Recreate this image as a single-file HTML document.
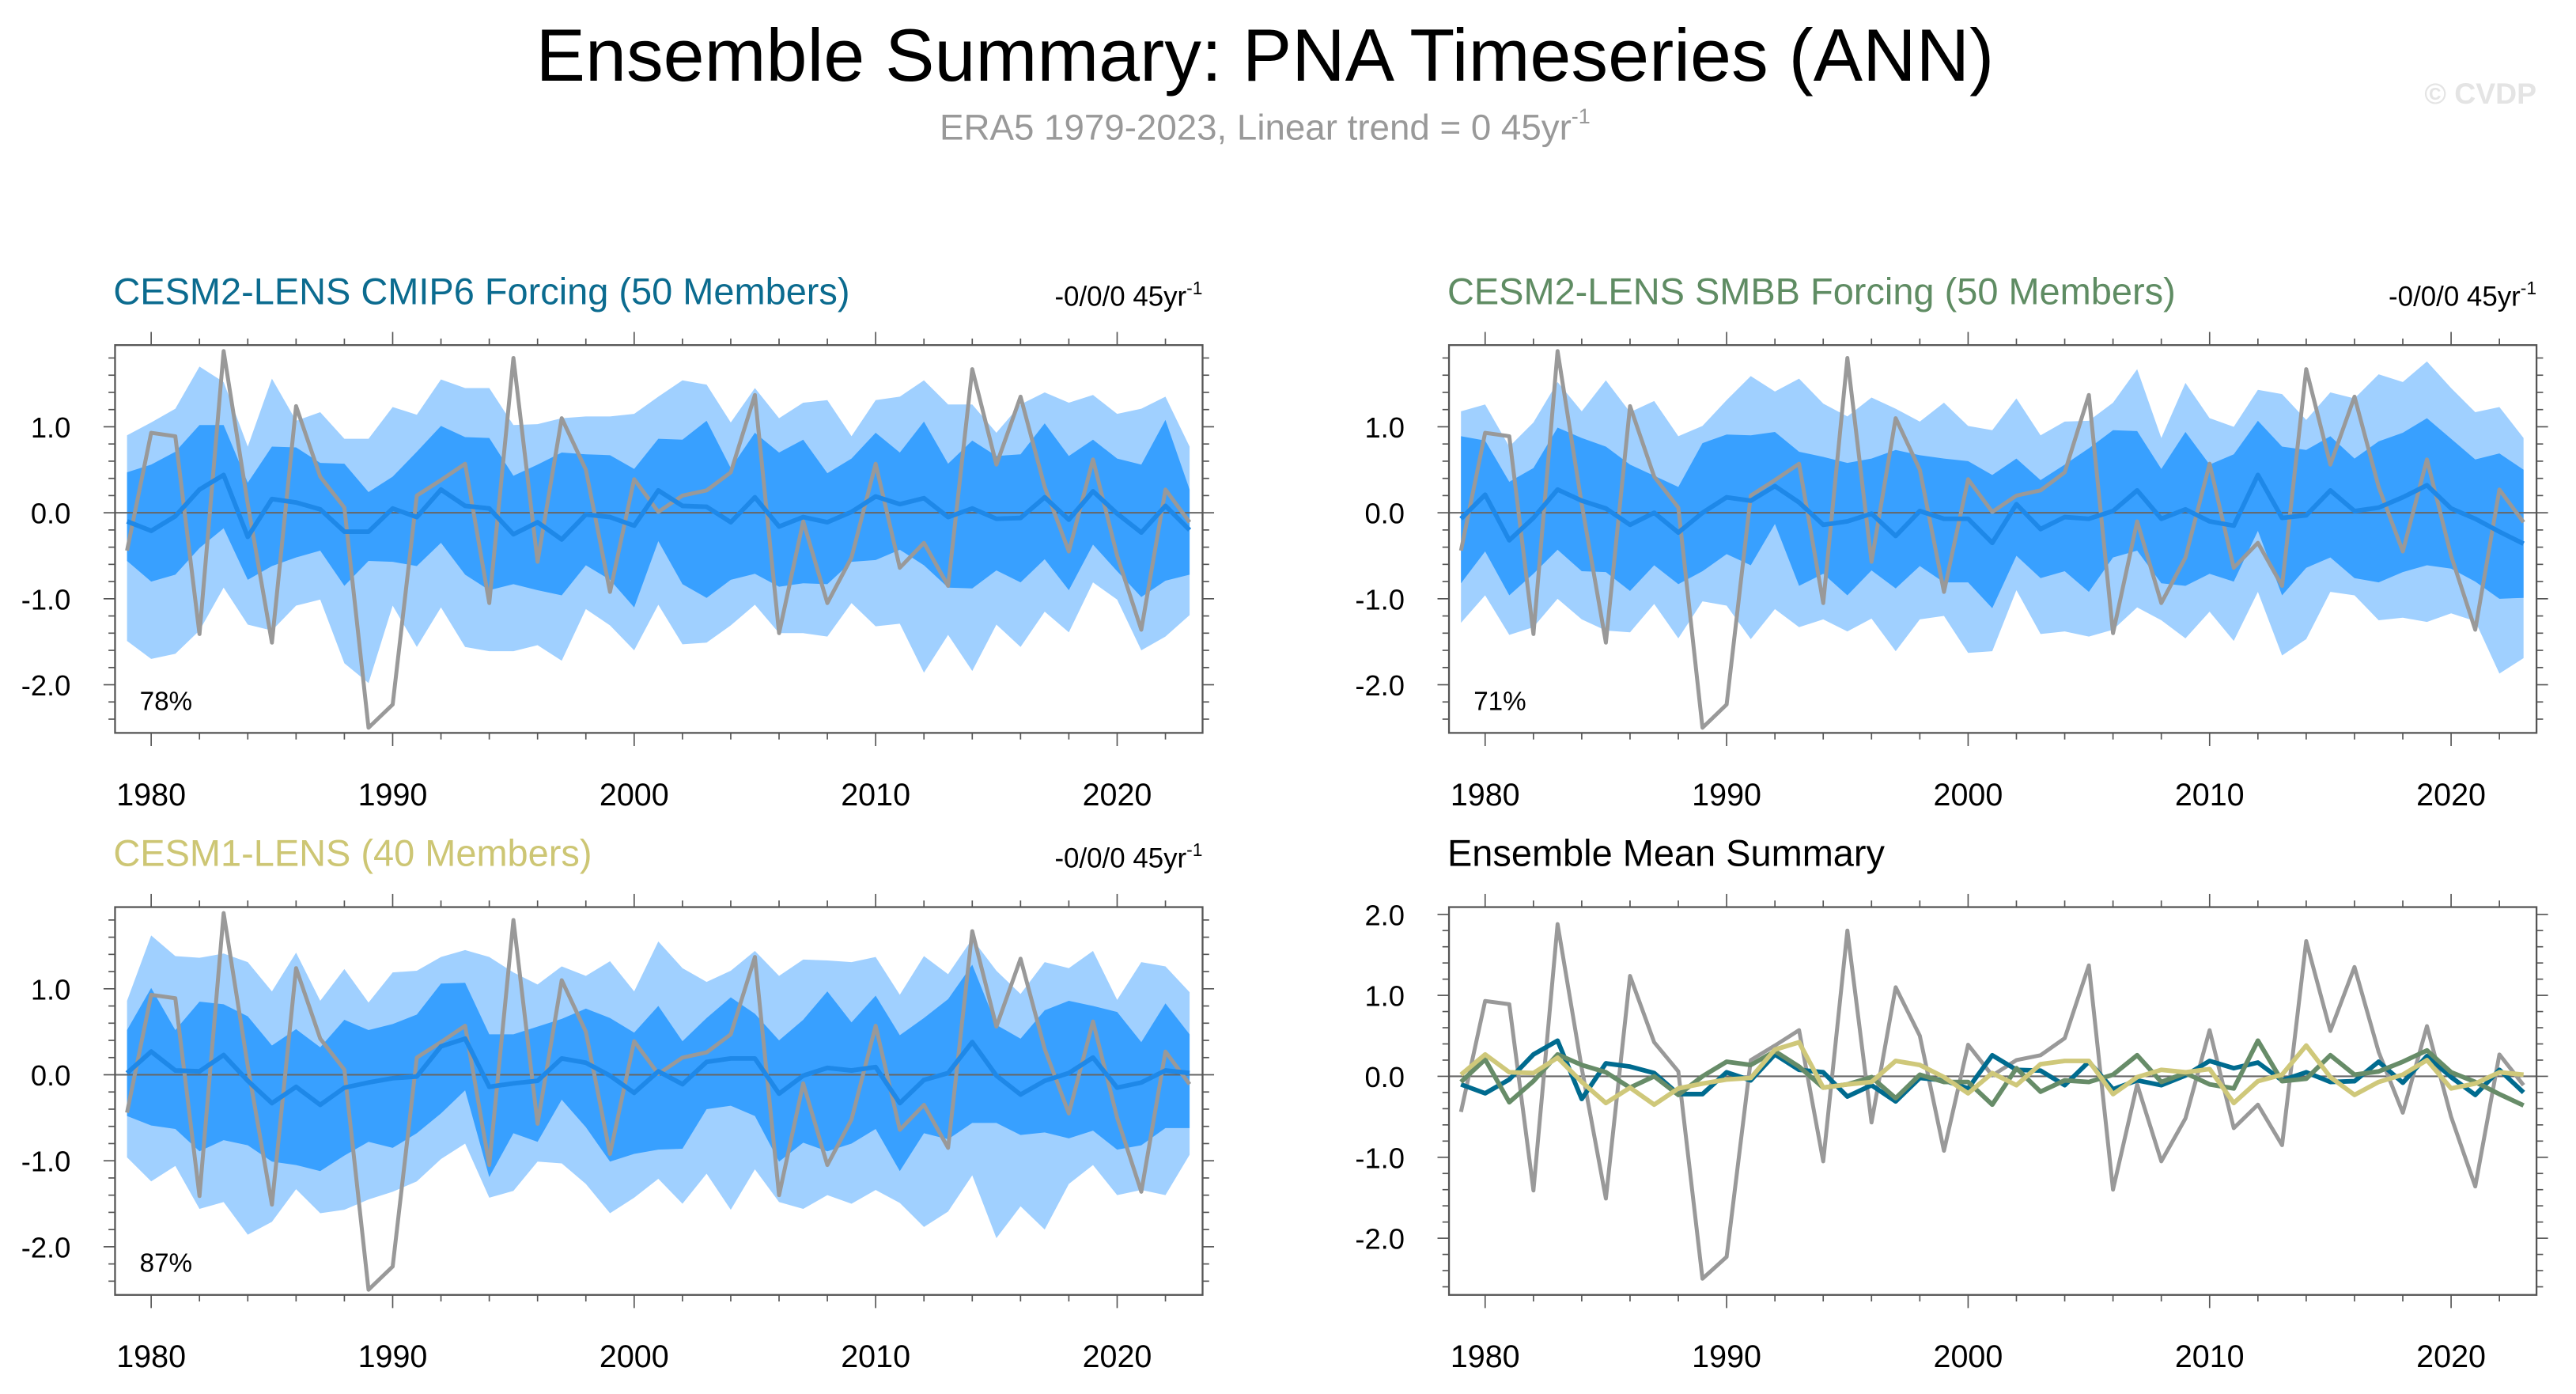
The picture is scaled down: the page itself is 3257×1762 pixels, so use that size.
<!DOCTYPE html>
<html><head><meta charset="utf-8">
<style>
html,body{margin:0;padding:0;background:#fff;}
svg{display:block;font-family:"Liberation Sans",sans-serif;}
</style></head>
<body>
<svg id="chart" xmlns="http://www.w3.org/2000/svg" width="3257" height="1762" viewBox="0 0 1568 848.3">
<text x="770" y="49" text-anchor="middle" font-size="45" fill="#000">Ensemble Summary: PNA Timeseries (ANN)</text>
<text x="770" y="85" text-anchor="middle" font-size="22" fill="#999">ERA5 1979-2023, Linear trend = 0 45yr<tspan font-size="13" dy="-10">-1</tspan></text>
<text x="1544" y="63" text-anchor="end" font-size="18" font-weight="bold" fill="#e4e4e4">© CVDP</text>
</svg>
<script>
const years = []; for (let y = 1979; y <= 2023; y++) years.push(y);
const obsEra5 = [-0.44,0.93,0.89,-1.41,1.88,0.10,-1.51,1.24,0.42,0.06,-2.50,-2.23,0.20,0.38,0.57,-1.05,1.80,-0.57,1.10,0.50,-0.92,0.39,0.01,0.20,0.26,0.47,1.37,-1.40,-0.10,-1.05,-0.52,0.57,-0.64,-0.35,-0.85,1.67,0.56,1.35,0.30,-0.45,0.62,-0.50,-1.36,0.27,-0.11];
// CESM2 CMIP6
const cmip6Mean = [-0.10,-0.21,-0.04,0.27,0.44,-0.28,0.16,0.12,0.04,-0.22,-0.22,0.05,-0.05,0.27,0.08,0.05,-0.25,-0.11,-0.31,-0.02,-0.05,-0.15,0.26,0.08,0.07,-0.11,0.18,-0.16,-0.05,-0.11,0.01,0.19,0.10,0.17,-0.05,0.05,-0.07,-0.06,0.18,-0.08,0.25,-0.01,-0.23,0.08,-0.20];
const cmip6Hi90 = [0.90,1.05,1.21,1.70,1.52,0.77,1.56,1.07,1.17,0.86,0.86,1.23,1.14,1.55,1.45,1.45,1.02,1.03,1.10,1.12,1.12,1.15,1.35,1.54,1.49,1.05,1.45,1.10,1.28,1.31,0.89,1.31,1.35,1.54,1.26,1.26,0.93,1.26,1.40,1.28,1.37,1.15,1.21,1.35,0.77];
const cmip6Hi67 = [0.47,0.56,0.71,1.02,1.02,0.35,0.77,0.76,0.58,0.57,0.24,0.42,0.71,1.01,0.88,0.87,0.43,0.56,0.70,0.68,0.67,0.51,0.86,0.85,1.07,0.52,0.93,0.70,0.85,0.46,0.63,0.93,0.70,1.06,0.57,0.84,0.66,0.68,1.04,0.66,0.85,0.63,0.56,1.08,0.27];
const cmip6Lo67 = [-0.56,-0.80,-0.72,-0.41,-0.18,-0.78,-0.62,-0.52,-0.44,-0.85,-0.56,-0.57,-0.62,-0.35,-0.72,-0.90,-0.83,-0.90,-0.96,-0.61,-0.78,-1.10,-0.33,-0.83,-0.99,-0.78,-0.71,-0.86,-0.82,-0.83,-0.57,-0.55,-0.43,-0.61,-0.87,-0.88,-0.67,-0.81,-0.54,-0.90,-0.37,-0.68,-0.98,-0.79,-0.72];
const cmip6Lo90 = [-1.49,-1.70,-1.64,-1.37,-0.87,-1.30,-1.37,-1.08,-1.01,-1.75,-1.98,-1.08,-1.56,-1.10,-1.56,-1.61,-1.61,-1.54,-1.72,-1.12,-1.31,-1.60,-1.07,-1.53,-1.51,-1.31,-1.07,-1.40,-1.40,-1.44,-1.05,-1.32,-1.29,-1.86,-1.42,-1.84,-1.30,-1.56,-1.15,-1.39,-0.81,-1.01,-1.60,-1.44,-1.19];
// CESM2 SMBB
const smbbMean = [-0.07,0.21,-0.32,-0.06,0.27,0.14,0.05,-0.14,0.00,-0.23,0.00,0.18,0.14,0.31,0.12,-0.14,-0.10,-0.01,-0.27,0.02,-0.07,-0.07,-0.35,0.10,-0.19,-0.05,-0.07,0.02,0.26,-0.07,0.04,-0.10,-0.15,0.44,-0.06,-0.03,0.26,0.02,0.06,0.18,0.32,0.05,-0.07,-0.22,-0.36];
const smbbHi90 = [1.18,1.26,0.77,1.05,1.52,1.18,1.54,1.17,1.30,0.89,1.01,1.31,1.59,1.41,1.56,1.27,1.12,1.34,1.21,1.06,1.28,1.01,0.96,1.33,0.90,1.06,1.07,1.28,1.67,0.87,1.51,1.10,1.00,1.43,1.38,1.08,1.40,1.33,1.61,1.52,1.76,1.45,1.17,1.23,0.87];
const smbbHi67 = [0.89,0.84,0.36,0.52,0.99,0.87,0.77,0.56,0.43,0.30,0.81,0.91,0.90,0.94,0.71,0.65,0.58,0.63,0.73,0.67,0.63,0.60,0.44,0.63,0.38,0.56,0.75,0.96,0.95,0.51,0.94,0.56,0.68,1.07,0.77,0.73,0.89,0.63,0.83,0.93,1.10,0.86,0.62,0.69,0.50];
const smbbLo67 = [-0.82,-0.45,-0.96,-0.71,-0.43,-0.68,-0.69,-0.91,-0.61,-0.83,-0.68,-0.48,-0.61,-0.13,-0.85,-0.71,-0.96,-0.67,-0.88,-0.62,-0.81,-0.81,-1.11,-0.50,-0.76,-0.68,-0.92,-0.52,-0.44,-0.82,-0.85,-0.71,-0.80,-0.21,-0.96,-0.64,-0.52,-0.76,-0.81,-0.69,-0.61,-0.65,-0.80,-1.00,-0.99];
const smbbLo90 = [-1.28,-0.96,-1.42,-1.33,-1.00,-1.24,-1.37,-1.39,-1.06,-1.46,-1.03,-1.08,-1.47,-1.12,-1.33,-1.24,-1.38,-1.23,-1.61,-1.24,-1.20,-1.63,-1.61,-0.90,-1.41,-1.38,-1.44,-1.36,-1.10,-1.25,-1.46,-1.15,-1.49,-0.92,-1.66,-1.47,-0.92,-0.96,-1.25,-1.22,-1.27,-1.17,-1.26,-1.87,-1.69];
// CESM1
const cesm1Mean = [0.02,0.27,0.05,0.04,0.23,-0.07,-0.33,-0.14,-0.35,-0.15,-0.09,-0.04,-0.02,0.33,0.42,-0.14,-0.10,-0.07,0.19,0.14,-0.01,-0.21,0.04,-0.11,0.15,0.19,0.19,-0.22,-0.01,0.08,0.05,0.09,-0.33,-0.06,0.02,0.38,-0.01,-0.23,-0.07,0.02,0.20,-0.15,-0.09,0.05,0.02];
const cesm1Hi90 = [0.86,1.62,1.38,1.36,1.41,1.31,0.97,1.42,0.86,1.23,0.84,1.19,1.21,1.37,1.45,1.37,1.19,1.05,1.26,1.15,1.32,0.97,1.55,1.24,1.08,1.21,1.44,1.15,1.34,1.33,1.31,1.37,0.93,1.38,1.17,1.58,1.21,0.94,1.31,1.24,1.44,0.87,1.31,1.26,0.96];
const cesm1Hi67 = [0.52,1.01,0.52,0.85,0.82,0.68,0.34,0.53,0.32,0.64,0.52,0.59,0.70,1.06,1.07,0.47,0.47,0.56,0.65,0.77,0.66,0.49,0.80,0.39,0.66,0.90,0.71,0.40,0.64,0.97,0.61,0.92,0.46,0.66,0.88,1.28,0.58,0.42,0.75,0.86,0.80,0.73,0.38,0.83,0.47];
const cesm1Lo67 = [-0.48,-0.59,-0.63,-0.89,-0.76,-0.82,-1.01,-1.05,-1.12,-0.94,-0.78,-0.85,-0.68,-0.45,-0.18,-1.19,-0.68,-0.78,-0.29,-0.61,-1.01,-0.92,-0.87,-0.86,-0.40,-0.36,-0.48,-1.01,-0.79,-0.89,-0.80,-0.63,-1.12,-0.68,-0.75,-0.56,-0.56,-0.70,-0.67,-0.74,-0.65,-0.87,-0.82,-0.62,-0.62];
const cesm1Lo90 = [-0.96,-1.24,-1.06,-1.56,-1.48,-1.86,-1.71,-1.33,-1.61,-1.57,-1.45,-1.36,-1.24,-0.98,-0.80,-1.43,-1.35,-1.01,-1.03,-1.27,-1.61,-1.43,-1.21,-1.50,-1.15,-1.57,-1.10,-1.48,-1.56,-1.40,-1.50,-1.34,-1.49,-1.77,-1.59,-1.17,-1.90,-1.53,-1.80,-1.27,-1.05,-1.40,-1.34,-1.40,-0.93];
const xTickLabels = [1980,1990,2000,2010,2020];
const yTickLabelsBand = [1.0,0.0,-1.0,-2.0];
const yTickLabelsSummary = [2.0,1.0,0.0,-1.0,-2.0];

const NS = "http://www.w3.org/2000/svg";
const svg = document.getElementById('chart');
function mk(tag, attrs, parent) {
  const e = document.createElementNS(NS, tag);
  for (const k in attrs) e.setAttribute(k, attrs[k]);
  (parent || svg).appendChild(e);
  return e;
}

function panel(cfg) {
  const g = mk('g', {});
  
  
  const {x0, x1, y0, y1, vTop, vBot} = cfg;
  const xs = v => x0 + 7.3 + (v - 1979) * 14.7;
  const ys = v => y0 + (vTop - v) / (vTop - vBot) * (y1 - y0);
  const t = mk('text', {x: x0 - 1, y: y0 - 25, 'font-size': 22.6, fill: cfg.titleColor}, g);
  t.textContent = cfg.title;
  
  
  if (cfg.trend) {
    const tr = mk('text', {x: x1, y: y0 - 24, 'text-anchor': 'end', 'font-size': 16.8, fill: '#000'}, g);
    tr.innerHTML = '-0/0/0 45yr<tspan font-size="11" dy="-7">-1</tspan>';
    
    
  }
  const clip = 'c' + cfg.name;
  const cp = mk('clipPath', {id: clip}, g);
  mk('rect', {x: x0, y: y0, width: x1 - x0, height: y1 - y0}, cp);
  const pg = mk('g', {'clip-path': 'url(#' + clip + ')'}, g);
  function band(hi, lo, color, name) {
    let d = '';
    years.forEach((yr, i) => { d += (i ? 'L' : 'M') + xs(yr).toFixed(2) + ',' + ys(hi[i]).toFixed(2); });
    for (let i = years.length - 1; i >= 0; i--) d += 'L' + xs(years[i]).toFixed(2) + ',' + ys(lo[i]).toFixed(2);
    const p = mk('path', {d: d + 'Z', fill: color}, pg);
    
    
  }
  function line(vals, color, w, name) {
    const pts = years.map((yr, i) => xs(yr).toFixed(2) + ',' + ys(vals[i]).toFixed(2)).join(' ');
    const p = mk('polyline', {points: pts, fill: 'none', stroke: color, 'stroke-width': w, 'stroke-linejoin': 'round'}, pg);
    
    
  }
  if (cfg.bands) {
    band(cfg.bands[0], cfg.bands[3], '#a0d0ff', 'band-5-95');
    band(cfg.bands[1], cfg.bands[2], '#38a0ff', 'band-25-75');
  }
  const zl = mk('line', {x1: x0, x2: x1, y1: ys(0), y2: ys(0), stroke: '#666', 'stroke-width': 1}, pg);
  
  
  cfg.lines.forEach(l => line(l[0], l[1], l[2], l[3]));
  const bx = mk('rect', {x: x0, y: y0, width: x1 - x0, height: y1 - y0, fill: 'none', stroke: '#555', 'stroke-width': 1.1}, g);
  
  
  for (let yr = 1980; yr <= 2022; yr += 2) {
    const major = yr % 10 === 0;
    const L = major ? 8 : 4;
    mk('line', {x1: xs(yr), x2: xs(yr), y1: y1, y2: y1 + L, stroke: '#555', 'stroke-width': 0.8}, g);
    mk('line', {x1: xs(yr), x2: xs(yr), y1: y0, y2: y0 - L, stroke: '#555', 'stroke-width': 0.8}, g);
  }
  xTickLabels.forEach(yr => {
    const tl = mk('text', {x: xs(yr), y: y1 + 44, 'text-anchor': 'middle', 'font-size': 19, fill: '#000'}, g);
    tl.textContent = yr;
    
    
  });
  for (let k = Math.ceil(vBot * 5); k <= Math.floor(vTop * 5); k++) {
    const v = k / 5; const major = k % 5 === 0; const L = major ? 7 : 4;
    mk('line', {x1: x0, x2: x0 - L, y1: ys(v), y2: ys(v), stroke: '#555', 'stroke-width': 0.8}, g);
    mk('line', {x1: x1, x2: x1 + L, y1: ys(v), y2: ys(v), stroke: '#555', 'stroke-width': 0.8}, g);
  }
  cfg.yLabels.forEach(v => {
    const tl = mk('text', {x: x0 - 27, y: ys(v) + 6.5, 'text-anchor': 'end', 'font-size': 17.5, fill: '#000'}, g);
    tl.textContent = v.toFixed(1);
    
    
  });
  if (cfg.pct) {
    const pt = mk('text', {x: x0 + 15, y: y1 - 14, 'font-size': 16, fill: '#000'}, g);
    pt.textContent = cfg.pct;
    
    
  }
}

const bandTop = 1.95, bandBot = -2.56;
panel({name: 'panel-cesm2-cmip6', x0: 70, x1: 732, y0: 210, y1: 446, vTop: bandTop, vBot: bandBot,
  title: 'CESM2-LENS CMIP6 Forcing (50 Members)', titleColor: '#0b6b8f', trend: true, pct: '78%', yLabels: yTickLabelsBand,
  bands: [cmip6Hi90, cmip6Hi67, cmip6Lo67, cmip6Lo90],
  lines: [[obsEra5, '#999', 2.4, 'era5-line'], [cmip6Mean, '#1e88e8', 2.8, 'ensemble-mean-line']]});
panel({name: 'panel-cesm2-smbb', x0: 882, x1: 1544, y0: 210, y1: 446, vTop: bandTop, vBot: bandBot,
  title: 'CESM2-LENS SMBB Forcing (50 Members)', titleColor: '#5f8c63', trend: true, pct: '71%', yLabels: yTickLabelsBand,
  bands: [smbbHi90, smbbHi67, smbbLo67, smbbLo90],
  lines: [[obsEra5, '#999', 2.4, 'era5-line'], [smbbMean, '#1e88e8', 2.8, 'ensemble-mean-line']]});
panel({name: 'panel-cesm1', x0: 70, x1: 732, y0: 552, y1: 788, vTop: bandTop, vBot: bandBot,
  title: 'CESM1-LENS (40 Members)', titleColor: '#cdc674', trend: true, pct: '87%', yLabels: yTickLabelsBand,
  bands: [cesm1Hi90, cesm1Hi67, cesm1Lo67, cesm1Lo90],
  lines: [[obsEra5, '#999', 2.4, 'era5-line'], [cesm1Mean, '#1e88e8', 2.8, 'ensemble-mean-line']]});
panel({name: 'panel-ensemble-mean-summary', x0: 882, x1: 1544, y0: 552, y1: 788, vTop: 2.09, vBot: -2.70,
  title: 'Ensemble Mean Summary', titleColor: '#000', trend: false, yLabels: yTickLabelsSummary,
  lines: [[obsEra5, '#999', 2.4, 'era5-line'], [cmip6Mean, '#006b8f', 2.8, 'cmip6-mean-line'],
          [smbbMean, '#678c68', 2.8, 'smbb-mean-line'], [cesm1Mean, '#cfc87a', 2.8, 'cesm1-mean-line']]});
</script>
</body></html>
